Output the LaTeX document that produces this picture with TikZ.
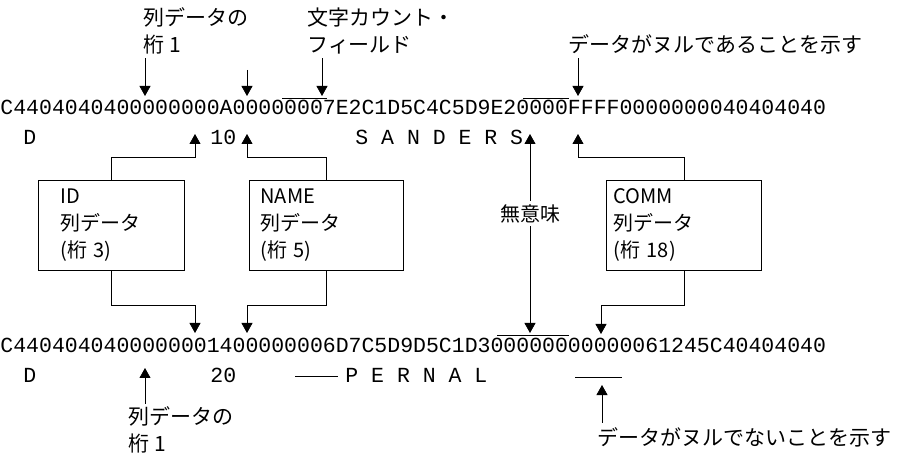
\documentclass[tikz,border=0pt]{standalone}
\usepackage{fontspec}
\newfontfamily\jpfont{Noto Sans CJK JP}
\newfontfamily\hexfont{Liberation Mono}
\usetikzlibrary{arrows.meta}

\begin{document}
\begin{tikzpicture}[
    x=1pt, y=-1pt,
    line width=0.8pt,
    every node/.style={inner sep=0pt},
    hex/.style={font=\hexfont\fontsize{21.5}{21.5}\selectfont, anchor=base west},
    lbl/.style={font=\jpfont\fontsize{21}{26.5}\selectfont, align=left, anchor=west},
    colbox/.style={draw, anchor=north west, minimum height=90pt, align=left,
        font=\jpfont\fontsize{20}{27}\selectfont},
    arr/.style={-{Triangle[width=11pt,length=10pt]}},
    dblarr/.style={{Triangle[width=11pt,length=10pt]}-{Triangle[width=11pt,length=10pt]}}
]
\useasboundingbox (0,0) rectangle (900,454);

% first record
\node[hex] (row1) at (0,115) {C4404040400000000A00000007E2C1D5C4C5D9E20000FFFF0000000040404040};
\node[hex] (d1) at (23,145) {D};
\node[hex] (n1) at (210,145) {10};
\node[hex] (s1) at (355,145) {S A N D E R S};

% labels on top
\node[lbl] (col1top) at (143,31) {列データの\\桁 1};
\node[lbl] (cntlbl) at (307,31) {文字カウント・\\フィールド};
\node[lbl] (nullyes) at (568,44) {データがヌルであることを示す};

\coordinate (t1) at (145,96);
\coordinate (t2s) at (247,70);
\coordinate (t2) at (247,96);
\coordinate (t3) at (322,96);
\coordinate (t4) at (578,96);

\draw[arr] (t1 |- col1top.south) ++(0,4) -- (t1);
\draw[arr] (t2s) -- (t2);
\draw[arr] (t3 |- cntlbl.south) ++(0,4) -- (t3);
\draw[arr] (t4 |- nullyes.south) ++(0,4) -- (t4);

\draw (282,98) -- (327,98);
\draw (523,98) -- (569,98);

% column boxes
\node[colbox, inner xsep=22pt, text width=102pt] (idbox) at (38,180) {ID\\列データ\\(桁 3)};
\node[colbox, inner xsep=11pt, text width=132pt] (namebox) at (249,180) {NAME\\列データ\\(桁 5)};
\node[colbox, inner xsep=7pt, text width=141pt] (commbox) at (606,180) {COMM\\列データ\\(桁 18)};

\coordinate (u1) at (195,134);
\coordinate (u2) at (247,134);
\coordinate (u3) at (578,134);
\draw[arr] (idbox.north) -- ++(0,-23) -| (u1);
\draw[arr] (namebox.north) -- ++(0,-23) -| (u2);
\draw[arr] (commbox.north) -- ++(0,-23) -| (u3);

\coordinate (b1) at (195,333);
\coordinate (b2) at (247,333);
\coordinate (b3) at (601,334);
\draw[arr] (idbox.south) -- ++(0,35) -| (b1);
\draw[arr] (namebox.south) -- ++(0,35) -| (b2);
\draw[arr] (commbox.south) -- ++(0,35) -| (b3);

% meaningless bytes
\coordinate (m1) at (530,134);
\coordinate (m2) at (530,333);
\draw[dblarr] (m1) -- node[pos=0.4, fill=white, inner sep=3pt, font=\jpfont\fontsize{20}{20}\selectfont] (mulbl) {無意味} (m2);

% second record
\node[hex] (row2) at (0,353) {C4404040400000001400000006D7C5D9D5C1D300000000000061245C40404040};
\node[hex] (d2) at (23,382) {D};
\node[hex] (n2) at (210,382) {20};
\node[hex] (s2) at (345,382) {P E R N A L};
\draw (295,376) -- (338,376);
\draw (497,335) -- (569,335);
\draw (575,377) -- (622,377);

% labels below
\node[lbl] (col1bot) at (128,430) {列データの\\桁 1};
\node[lbl] (nullno) at (597,437) {データがヌルでないことを示す};
\coordinate (v1) at (145,368);
\coordinate (v2) at (602,385);
\draw[arr] (v1 |- col1bot.north) ++(0,-3) -- (v1);
\draw[arr] (v2 |- nullno.north) ++(0,-4) -- (v2);

\end{tikzpicture}
\end{document}
